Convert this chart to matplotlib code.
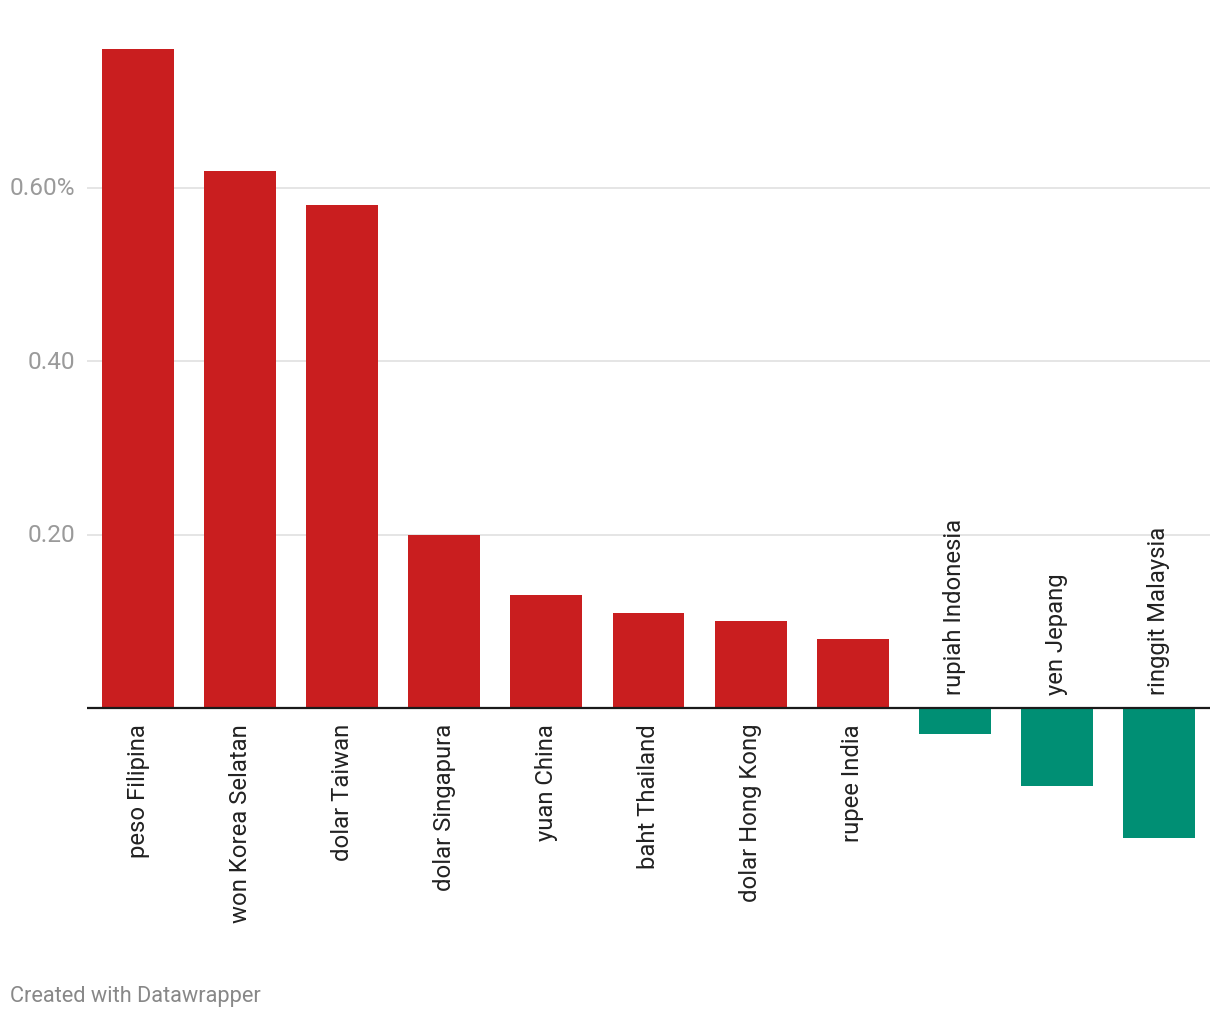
import matplotlib
matplotlib.use("Agg")
import matplotlib.pyplot as plt
from matplotlib import transforms

plt.rcParams['font.family'] = ['Roboto', 'DejaVu Sans']

categories = ["peso Filipina", "won Korea Selatan", "dolar Taiwan", "dolar Singapura",
              "yuan China", "baht Thailand", "dolar Hong Kong", "rupee India",
              "rupiah Indonesia", "yen Jepang", "ringgit Malaysia"]
values = [0.76, 0.62, 0.58, 0.20, 0.13, 0.11, 0.10, 0.08, -0.03, -0.09, -0.15]
yticks = [0.2, 0.4, 0.6]
ytick_labels = ["0.20", "0.40", "0.60%"]

RED = "#c91e1f"
GREEN = "#008f74"

W, H = 1220, 1020
fig = plt.figure(figsize=(W / 100, H / 100), dpi=100)

# axes in pixel coordinates (shifted 2px to compensate for rounding)
left_px, right_px = 87, 1210
top_px, bot_px = 32, 862
zero_px = 709
px_per_unit = (709 - 189) / 0.6
ymax = (zero_px - top_px) / px_per_unit
ymin = -(bot_px - zero_px) / px_per_unit
ax = fig.add_axes([left_px / W, 1 - bot_px / H, (right_px - left_px) / W, (bot_px - top_px) / H])
ax.set_ylim(ymin, ymax)
ax.set_xlim(-0.5, len(categories) - 0.5)

for s in ax.spines.values():
    s.set_visible(False)
ax.set_xticks([])
ax.set_yticks([])

for t in yticks:
    ax.axhline(t, color="#e3e3e3", lw=1.3, zorder=0)

ylab_trans = transforms.blended_transform_factory(fig.transFigure, ax.transData)
for t, lab in zip(yticks, ytick_labels):
    fig.text(75 / W, t, lab, transform=ylab_trans, ha="right", va="center",
             fontsize=17.6, color="#9a9a9a")

x = list(range(len(categories)))
colors = [RED if v >= 0 else GREEN for v in values]
ax.bar(x, values, width=0.705, color=colors, zorder=2)
ax.axhline(0, color="#1a1a1a", lw=1.6, zorder=3)

for i, (c, v) in enumerate(zip(categories, values)):
    if v >= 0:
        off = transforms.offset_copy(ax.transData, fig=fig, x=0, y=-15, units="dots")
        ax.text(i, 0, c, transform=off, rotation=90, ha="center", va="top",
                fontsize=17.2, color="#222222")
    else:
        off = transforms.offset_copy(ax.transData, fig=fig, x=0, y=14, units="dots")
        ax.text(i, 0, c, transform=off, rotation=90, ha="center", va="bottom",
                fontsize=17.2, color="#222222")

fig.text(10 / W, 1 - 997 / H, "Created with Datawrapper", ha="left", va="center",
         fontsize=15.7, color="#888888")

fig.savefig("out.png", dpi=100, facecolor="white")
